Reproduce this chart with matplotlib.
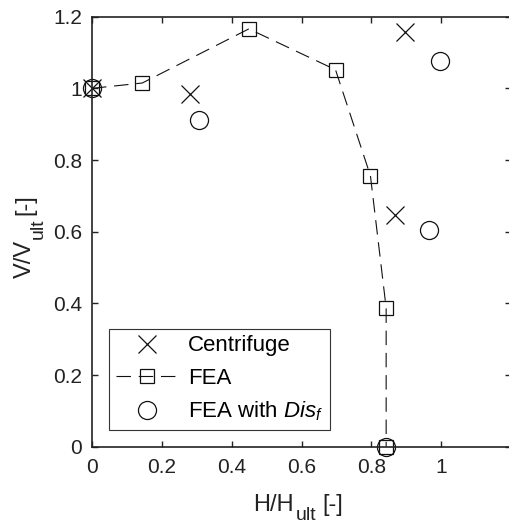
import matplotlib.pyplot as plt

plt.rcParams['font.family'] = ['Liberation Sans', 'DejaVu Sans']
plt.rcParams['mathtext.fontset'] = 'custom'
plt.rcParams['mathtext.rm'] = 'Liberation Sans'
plt.rcParams['mathtext.it'] = 'Liberation Sans:italic'

# ======================
# DATA
# ======================
cent_h = [0.0, 0.281, 0.895, 0.868]
cent_v = [1.0, 0.984, 1.157, 0.647]

fea_h = [0.0, 0.144, 0.449, 0.697, 0.797, 0.842, 0.842]
fea_v = [1.0, 1.015, 1.166, 1.052, 0.756, 0.387, 0.0]

dis_h = [0.0, 0.307, 0.995, 0.966, 0.842]
dis_v = [1.0, 0.913, 1.077, 0.605, 0.0]

xticks = [0, 0.2, 0.4, 0.6, 0.8, 1.0]
xticklabels = ['0', '0.2', '0.4', '0.6', '0.8', '1']
yticks = [0, 0.2, 0.4, 0.6, 0.8, 1.0, 1.2]
yticklabels = ['0', '0.2', '0.4', '0.6', '0.8', '1', '1.2']

W, H = 510, 527
TXT = '#222222'

# ======================
# PLOT
# ======================
fig = plt.figure(figsize=(W / 100, H / 100), dpi=100)
ax = fig.add_axes([0.1804, 0.1524, 0.822, 0.8159])

ax.plot(cent_h, cent_v, linestyle='none', marker='x', markersize=13,
        markeredgewidth=0.9, color='#111111', label='Centrifuge', clip_on=False)
ax.plot(fea_h, fea_v, linestyle=(0, (13, 7)), linewidth=0.8, marker='s',
        markersize=10, markerfacecolor='none', markeredgewidth=0.9,
        color='#111111', label='FEA', clip_on=False)
ax.plot(dis_h, dis_v, linestyle='none', marker='o', markersize=13,
        markerfacecolor='none', markeredgewidth=0.9, color='#111111',
        label=r'FEA with $\mathit{Dis_f}$', clip_on=False)

ax.set_xlim(0, 1.2)
ax.set_ylim(0, 1.2)
ax.set_xticks(xticks)
ax.set_xticklabels(xticklabels)
ax.set_yticks(yticks)
ax.set_yticklabels(yticklabels)
ax.tick_params(direction='in', length=4, width=1, top=True, right=True,
               labelsize=15, colors=TXT)
ax.tick_params(axis='x', pad=8)
ax.tick_params(axis='y', pad=7)
for s in ax.spines.values():
    s.set_linewidth(1.2)
    s.set_color(TXT)

# axis labels with MATLAB-like (large, low) subscripts
def px(x, y):
    return x / W, 1 - y / H

fig.text(*px(253, 511), 'H/H', fontsize=17, color=TXT, ha='left', va='baseline')
fig.text(*px(296, 520), 'ult', fontsize=14, color=TXT, ha='left', va='baseline')
fig.text(*px(322, 511), '[-]', fontsize=17, color=TXT, ha='left', va='baseline')

fig.text(*px(31, 278), 'V/V', fontsize=17, color=TXT, rotation=90,
         rotation_mode='anchor', ha='left', va='baseline')
fig.text(*px(43, 239), 'ult', fontsize=14, color=TXT, rotation=90,
         rotation_mode='anchor', ha='left', va='baseline')
fig.text(*px(31, 215), '[-]', fontsize=17, color=TXT, rotation=90,
         rotation_mode='anchor', ha='left', va='baseline')

leg = ax.legend(loc='lower left', bbox_to_anchor=(0.041, 0.039),
                borderaxespad=0, fontsize=16, fancybox=False,
                framealpha=1, edgecolor='#333333', handlelength=2.8,
                handletextpad=0.45, labelspacing=0.5, borderpad=0.3)
leg.get_frame().set_linewidth(0.8)

fig.savefig('out.png', dpi=100)
